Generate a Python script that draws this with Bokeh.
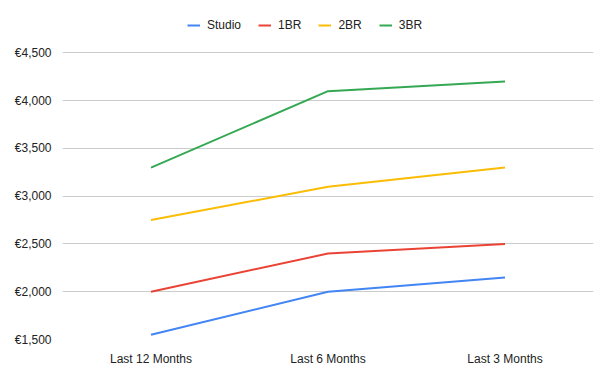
from bokeh.plotting import figure
from bokeh.models import FactorRange, Range1d, FixedTicker, Legend, LegendItem
from bokeh.embed import file_html
from bokeh.resources import INLINE

periods = ["Last 12 Months", "Last 6 Months", "Last 3 Months"]
studio = [1550, 2000, 2150]
br1 = [2000, 2400, 2500]
br2 = [2750, 3100, 3300]
br3 = [3300, 4100, 4200]
series_names = ["Studio", "1BR", "2BR", "3BR"]
series_colors = ["#4285F4", "#EA4335", "#FBBC04", "#34A853"]
y_ticks = [1500, 2000, 2500, 3000, 3500, 4000, 4500]

FONT = "Liberation Sans"

# frame extends to the top of the figure so the legend can sit above the 4,500 gridline
p = figure(width=611, height=378, x_range=FactorRange(*periods, range_padding=0),
           y_range=Range1d(1500, 5049), output_backend="svg", toolbar_location=None,
           min_border_left=62, min_border_right=18, min_border_top=0, min_border_bottom=39)
p.outline_line_color = None

items = []
for name, vals, col in zip(series_names, [studio, br1, br2, br3], series_colors):
    r = p.line(periods, vals, line_color=col, line_width=2)
    items.append(LegendItem(label=name, renderers=[r]))

legend = Legend(items=items, orientation="horizontal", location=(125, 307),
                label_text_font=FONT, label_text_font_size="12px", label_text_color="#222222",
                glyph_width=13, glyph_height=6, label_standoff=7, spacing=17,
                label_height=14,
                border_line_color=None, background_fill_alpha=0, padding=0, margin=0)
p.add_layout(legend, "center")

p.yaxis.ticker = FixedTicker(ticks=y_ticks)
p.yaxis.major_label_overrides = {t: "€{:,}".format(t) for t in y_ticks}
for ax in (p.xaxis[0], p.yaxis[0]):
    ax.axis_line_color = None
    ax.major_tick_line_color = None
    ax.minor_tick_line_color = None
    ax.major_label_text_font = FONT
    ax.major_label_text_font_size = "12px"
    ax.major_label_text_color = "#222222"
p.yaxis.major_label_standoff = 5
p.xaxis.major_label_standoff = 6
p.xgrid.grid_line_color = None
p.ygrid.grid_line_color = "#cccccc"
p.ygrid.ticker = FixedTicker(ticks=y_ticks)

open("out.html", "w").write(file_html(p, INLINE))
